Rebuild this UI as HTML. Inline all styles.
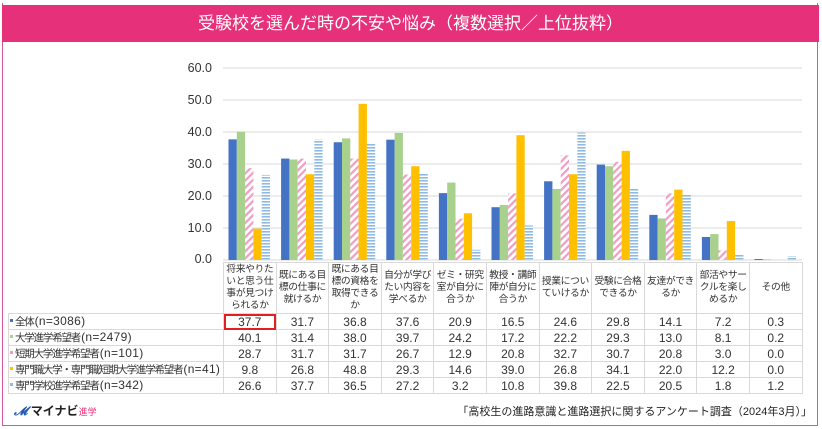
<!DOCTYPE html>
<html><head><meta charset="utf-8"><style>
body{margin:0;width:822px;height:429px;background:#fff;font-family:"Liberation Sans","Noto Sans CJK JP",sans-serif;position:relative;overflow:hidden}
.frame{position:absolute;left:2px;top:3px;width:814px;height:422px;border:1.5px solid #d9559a;border-top:none}
.title{position:absolute;left:2px;top:5px;width:817px;height:37px;background:#e6317a;color:#fff;font-size:17px;text-align:center;line-height:37px}
.yl{position:absolute;left:170px;width:42px;text-align:right;font-size:12.5px;color:#333}
table{position:absolute;left:8px;top:262px;border-collapse:collapse;table-layout:fixed;width:794px;font-size:12px;color:#333}
td{border:1px solid #d9d9d9;padding:0;text-align:center;height:14px;line-height:14px;overflow:hidden;white-space:nowrap}
td.l{text-align:left;font-size:12px;letter-spacing:0.3px}
td.l span.t{font-size:10.5px;letter-spacing:-1.2px;margin-right:1px}
tr.h td{height:50px;font-size:9.8px;letter-spacing:-0.4px;line-height:12px;vertical-align:middle}
tr.h td.l{border:none;border-right:1px solid #d9d9d9}
.m{display:inline-block;width:3px;height:3px;margin:0 2px 2px 1px;vertical-align:middle}
</style></head><body>
<div class="frame"></div>
<div class="title">受験校を選んだ時の不安や悩み（複数選択／上位抜粋）</div>
<div class="yl" style="top:61px">60.0</div>
<div class="yl" style="top:93px">50.0</div>
<div class="yl" style="top:125px">40.0</div>
<div class="yl" style="top:157px">30.0</div>
<div class="yl" style="top:189px">20.0</div>
<div class="yl" style="top:221px">10.0</div>
<div class="yl" style="top:252px">0.0</div>
<svg id="c" width="822" height="429" style="position:absolute;left:0;top:0">
<defs>
<pattern id="pk" width="5" height="5" patternUnits="userSpaceOnUse" patternTransform="rotate(45)"><rect width="5" height="5" fill="#fff"/><rect width="2.2" height="5" fill="#f09cc3"/></pattern>
<pattern id="lb" width="4" height="3" patternUnits="userSpaceOnUse"><rect width="4" height="3" fill="#fff"/><rect width="4" height="1.6" fill="#8fbbe3"/></pattern>
</defs>
<g id="g"></g>
</svg>
<table>
<colgroup><col style="width:215px"><col span="11" style="width:52.6px"></colgroup>
<tr class="h"><td class="l"></td><td>将来やりた<br>いと思う仕<br>事が見つけ<br>られるか</td><td>既にある目<br>標の仕事に<br>就けるか</td><td>既にある目<br>標の資格を<br>取得できる<br>か</td><td>自分が学び<br>たい内容を<br>学べるか</td><td>ゼミ・研究<br>室が自分に<br>合うか</td><td>教授・講師<br>陣が自分に<br>合うか</td><td>授業につい<br>ていけるか</td><td>受験に合格<br>できるか</td><td>友達ができ<br>るか</td><td>部活やサー<br>クルを楽し<br>めるか</td><td>その他</td></tr>
<tr><td class="l"><span class="m" style="background:#4472c4"></span><span class="t">全体</span>(n=3086)</td><td style="outline:2px solid #e02020;outline-offset:-2px">37.7</td><td>31.7</td><td>36.8</td><td>37.6</td><td>20.9</td><td>16.5</td><td>24.6</td><td>29.8</td><td>14.1</td><td>7.2</td><td>0.3</td></tr>
<tr><td class="l"><span class="m" style="background:#a9d18e"></span><span class="t">大学進学希望者</span>(n=2479)</td><td>40.1</td><td>31.4</td><td>38.0</td><td>39.7</td><td>24.2</td><td>17.2</td><td>22.2</td><td>29.3</td><td>13.0</td><td>8.1</td><td>0.2</td></tr>
<tr><td class="l"><span class="m" style="background:#f09cc3"></span><span class="t">短期大学進学希望者</span>(n=101)</td><td>28.7</td><td>31.7</td><td>31.7</td><td>26.7</td><td>12.9</td><td>20.8</td><td>32.7</td><td>30.7</td><td>20.8</td><td>3.0</td><td>0.0</td></tr>
<tr><td class="l"><span class="m" style="background:#ffc000"></span><span class="t">専門職大学・専門職短期大学進学希望者</span>(n=41)</td><td>9.8</td><td>26.8</td><td>48.8</td><td>29.3</td><td>14.6</td><td>39.0</td><td>26.8</td><td>34.1</td><td>22.0</td><td>12.2</td><td>0.0</td></tr>
<tr><td class="l"><span class="m" style="background:#8fbbe3"></span><span class="t">専門学校進学希望者</span>(n=342)</td><td>26.6</td><td>37.7</td><td>36.5</td><td>27.2</td><td>3.2</td><td>10.8</td><td>39.8</td><td>22.5</td><td>20.5</td><td>1.8</td><td>1.2</td></tr>
</table>
<div style="position:absolute;left:14px;top:402px;font-size:12px;font-weight:bold;color:#222"><span style="color:#1e5bb8;font-style:italic">𝓜</span> マイナビ<span style="color:#e6317a;font-size:9px;font-weight:normal">進学</span></div>
<div style="position:absolute;right:10px;top:403px;font-size:11px;color:#222">「高校生の進路意識と進路選択に関するアンケート調査（2024年3月）」</div>
<script>
var d=[[37.7,31.7,36.8,37.6,20.9,16.5,24.6,29.8,14.1,7.2,0.3],[40.1,31.4,38.0,39.7,24.2,17.2,22.2,29.3,13.0,8.1,0.2],[28.7,31.7,31.7,26.7,12.9,20.8,32.7,30.7,20.8,3.0,0.0],[9.8,26.8,48.8,29.3,14.6,39.0,26.8,34.1,22.0,12.2,0.0],[26.6,37.7,36.5,27.2,3.2,10.8,39.8,22.5,20.5,1.8,1.2]];
var f=["#4472c4","#a9d18e","url(#pk)","#ffc000","url(#lb)"];
var s='';
for(var v=0;v<=60;v+=10){var y=260-v*3.2;s+='<line x1="223" x2="802" y1="'+y+'" y2="'+y+'" stroke="#d9d9d9" stroke-width="1"/>';}
for(var c=0;c<11;c++){for(var k=0;k<5;k++){var h=d[k][c]*3.2;var x=223+c*52.6+5.5+k*8.3;s+='<rect x="'+x+'" y="'+(260-h)+'" width="8.3" height="'+h+'" fill="'+f[k]+'"/>';}}
document.getElementById('g').innerHTML=s;
</script>
</body></html>
